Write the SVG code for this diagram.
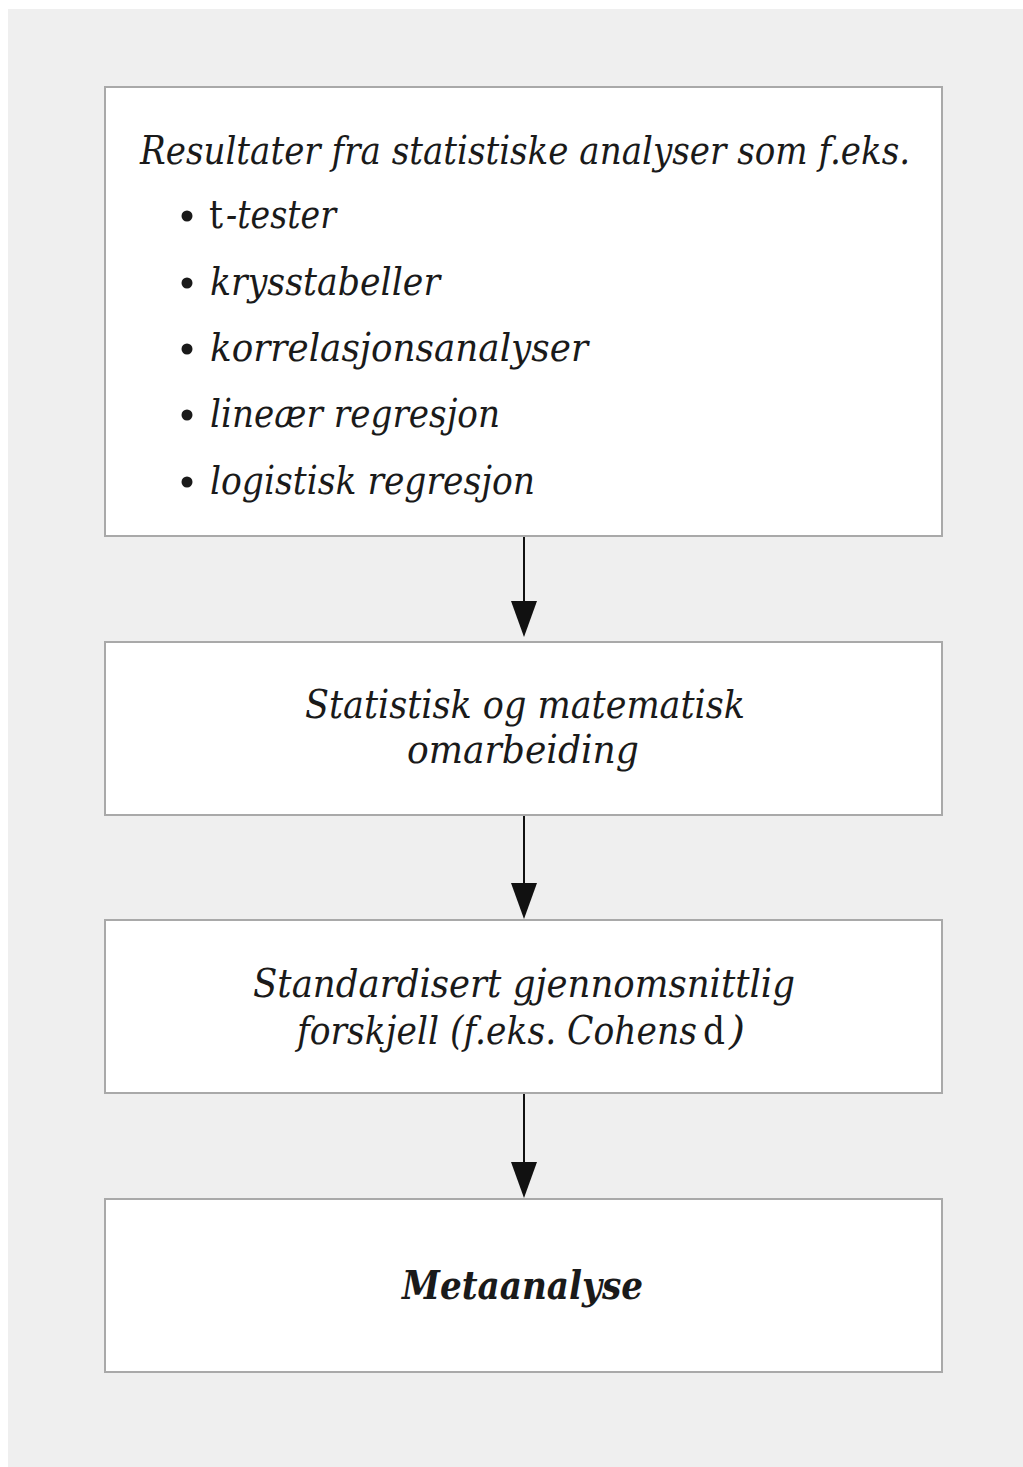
<svg xmlns="http://www.w3.org/2000/svg" width="1023" height="1467" viewBox="0 0 1023 1467">
<defs>
<style>
.box{fill:#ffffff;stroke:#a9a9a9;stroke-width:2}
.t{font-family:"DejaVu Serif","Liberation Serif",serif;font-style:italic;font-size:40px;fill:#1a1a1a}
.up{font-style:normal}
.b{font-weight:bold}
.conn line{stroke:#111;stroke-width:2}
.conn polygon{fill:#111}
.dot{fill:#1a1a1a}
</style>
</defs>
<rect x="0" y="0" width="1023" height="1467" fill="#ffffff"/>
<rect x="8" y="9" width="1015" height="1458" fill="#efefef"/>

<g id="node-results">
<rect class="box" x="105" y="87" width="837" height="449"/>
<text class="t" x="140" y="164" textLength="770" lengthAdjust="spacingAndGlyphs">Resultater fra statistiske analyser som f.eks.</text>
<circle class="dot" cx="187" cy="216" r="5.5"/>
<text class="t" y="228"><tspan class="up" x="209" textLength="14" lengthAdjust="spacingAndGlyphs">t</tspan><tspan x="226" textLength="110" lengthAdjust="spacingAndGlyphs">-tester</tspan></text>
<circle class="dot" cx="187" cy="283" r="5.5"/>
<text class="t" x="210" y="295" textLength="230" lengthAdjust="spacingAndGlyphs">krysstabeller</text>
<circle class="dot" cx="187" cy="349" r="5.5"/>
<text class="t" x="210" y="361" textLength="378" lengthAdjust="spacingAndGlyphs">korrelasjonsanalyser</text>
<circle class="dot" cx="187" cy="415" r="5.5"/>
<text class="t" x="210" y="427" textLength="290" lengthAdjust="spacingAndGlyphs">lineær regresjon</text>
<circle class="dot" cx="187" cy="482" r="5.5"/>
<text class="t" x="210" y="494" textLength="325" lengthAdjust="spacingAndGlyphs">logistisk regresjon</text>
</g>

<g id="node-omarbeiding">
<rect class="box" x="105" y="642" width="837" height="173"/>
<text class="t" x="305" y="718" textLength="440" lengthAdjust="spacingAndGlyphs">Statistisk og matematisk</text>
<text class="t" x="407" y="763" textLength="232" lengthAdjust="spacingAndGlyphs">omarbeiding</text>
</g>

<g id="node-standardisert">
<rect class="box" x="105" y="920" width="837" height="173"/>
<text class="t" x="253" y="997" textLength="542" lengthAdjust="spacingAndGlyphs">Standardisert gjennomsnittlig</text>
<text class="t" y="1044"><tspan x="297" textLength="400" lengthAdjust="spacingAndGlyphs">forskjell (f.eks. Cohens</tspan><tspan class="up" x="703" textLength="22" lengthAdjust="spacingAndGlyphs">d</tspan><tspan x="729" textLength="16" lengthAdjust="spacingAndGlyphs">)</tspan></text>
</g>

<g id="node-metaanalyse">
<rect class="box" x="105" y="1199" width="837" height="173"/>
<text class="t b" x="402" y="1299" textLength="241" lengthAdjust="spacingAndGlyphs">Metaanalyse</text>
</g>

<g id="connectors" class="conn">
<line x1="524" y1="537" x2="524" y2="603"/>
<polygon points="511,601 537,601 524,637"/>
<line x1="524" y1="816" x2="524" y2="885"/>
<polygon points="511,883 537,883 524,919"/>
<line x1="524" y1="1094" x2="524" y2="1164"/>
<polygon points="511,1162 537,1162 524,1198"/>
</g>
</svg>
